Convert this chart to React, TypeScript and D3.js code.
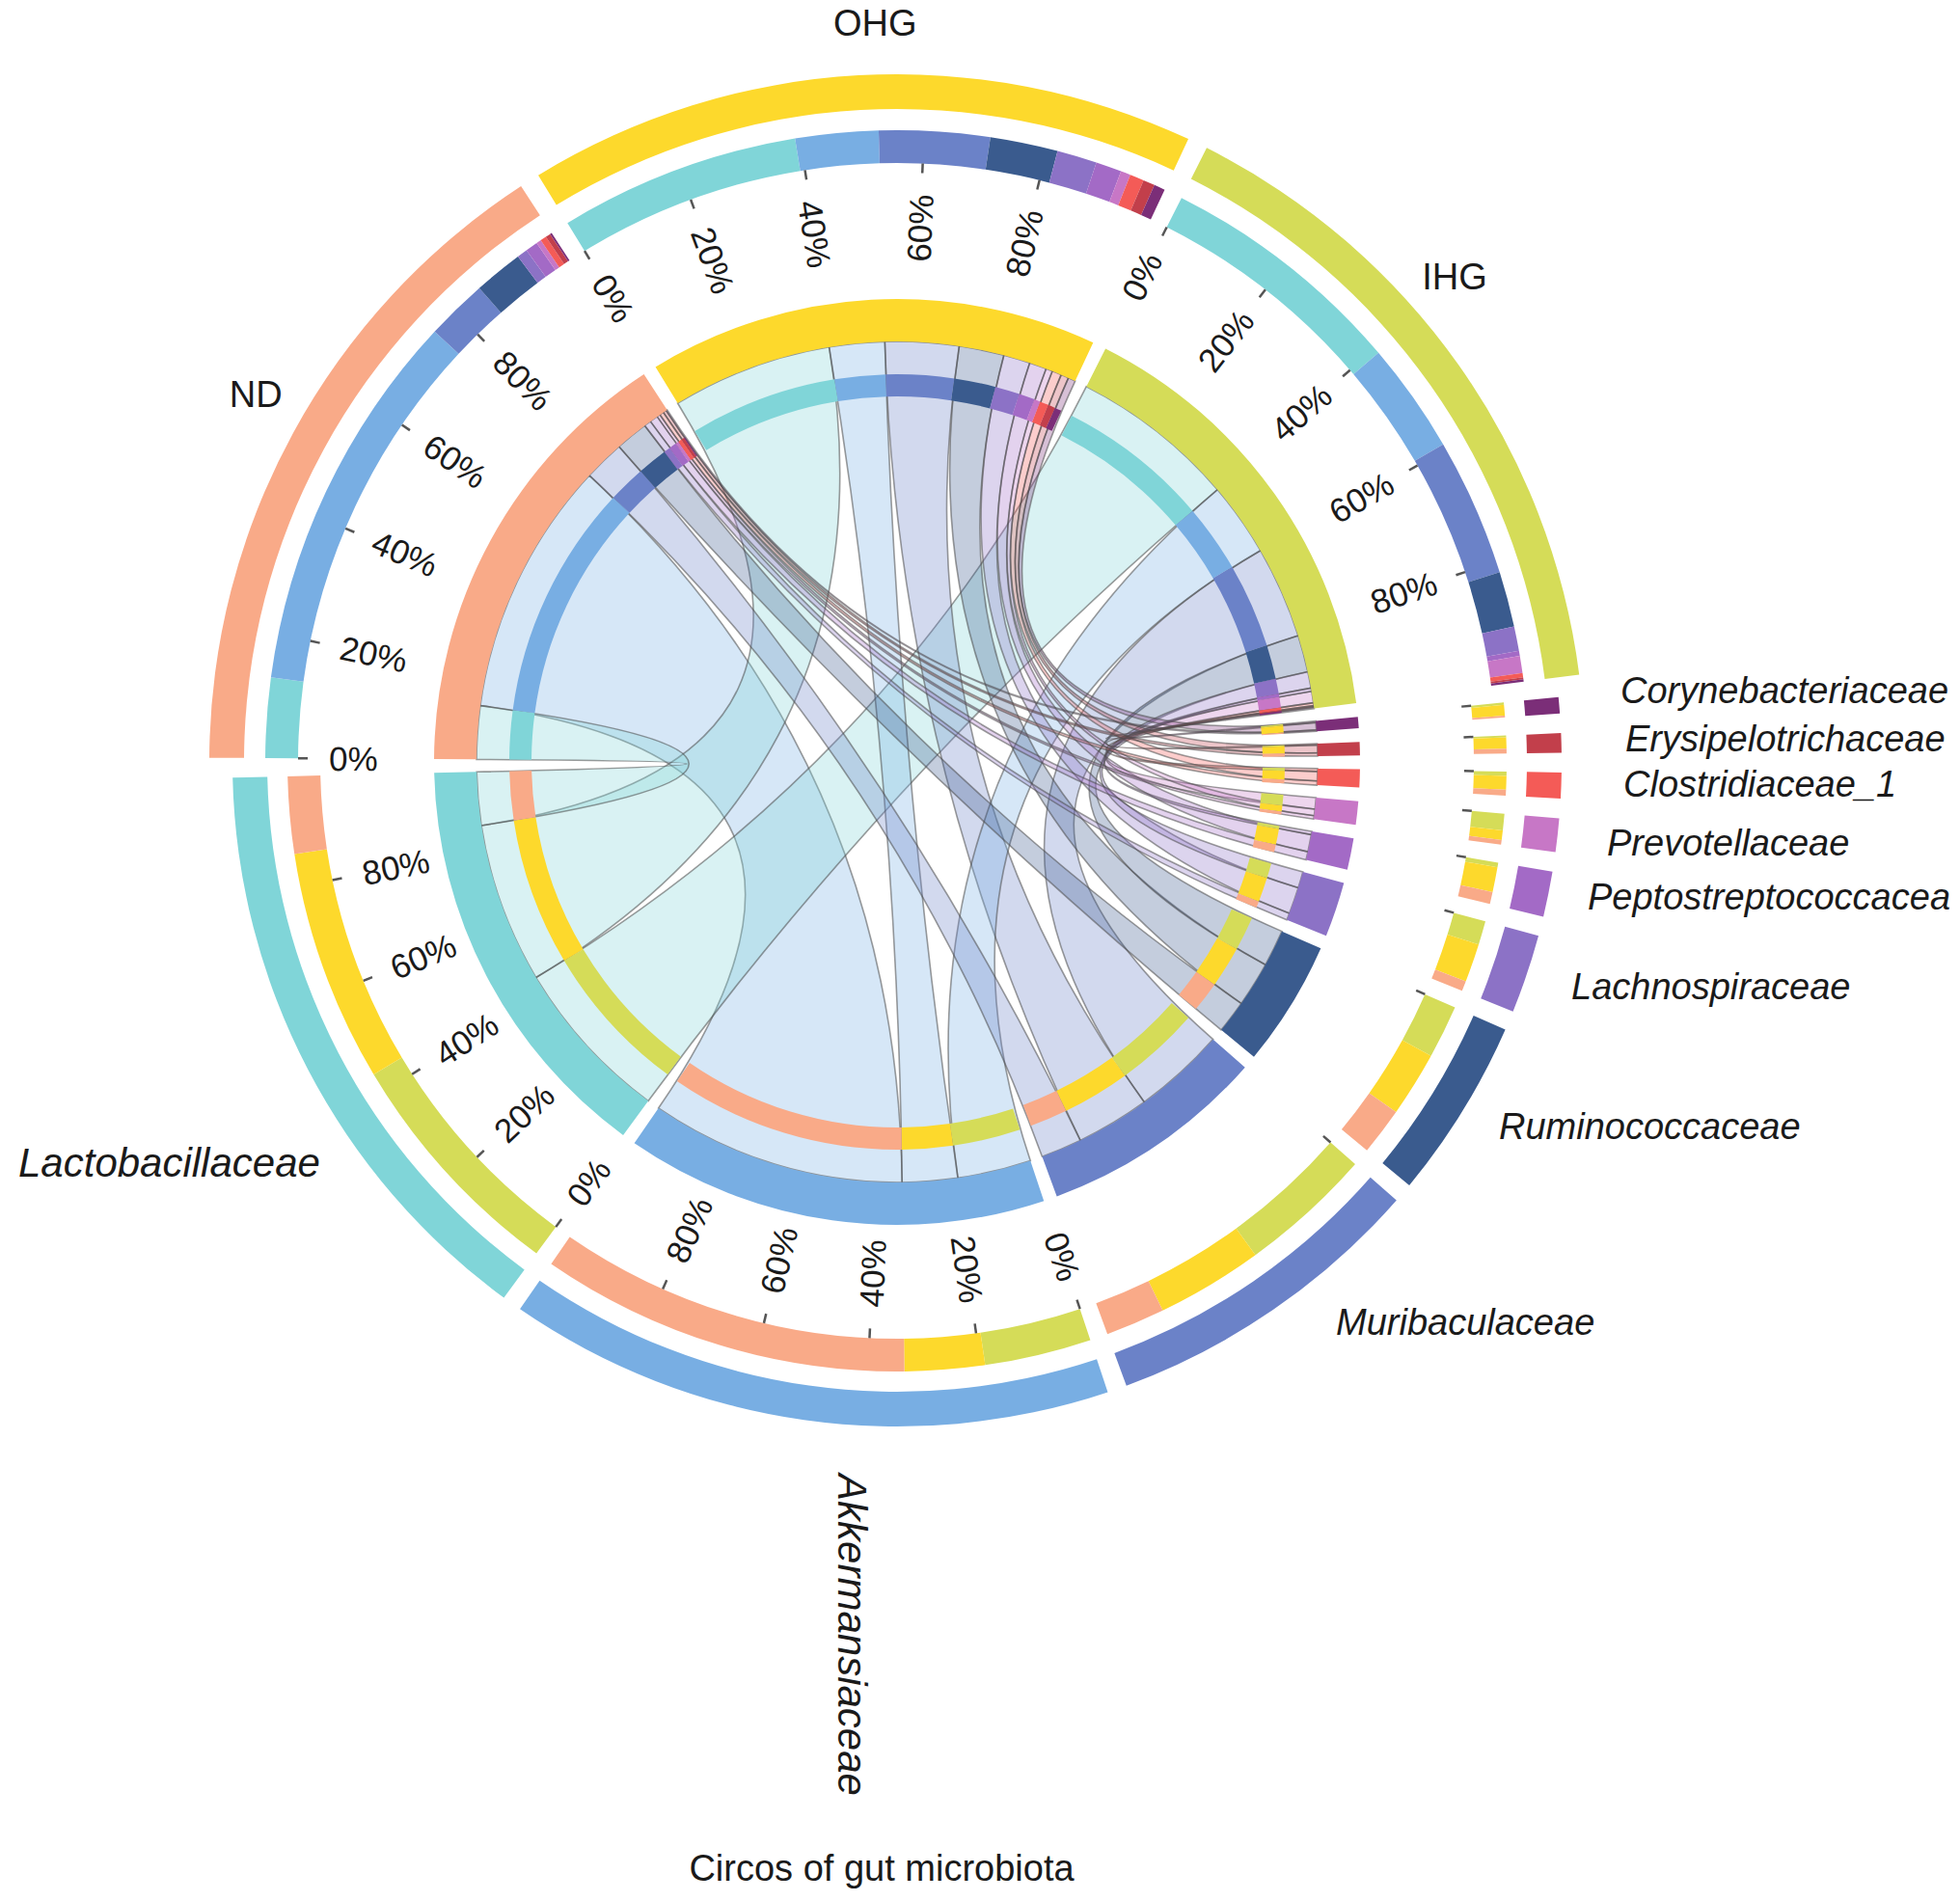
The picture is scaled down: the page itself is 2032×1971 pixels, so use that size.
import * as d3 from "d3"

// groups (rows) and gut-microbiota families (columns)
const groups = ["ND", "OHG", "IHG"]
const groupColors = ["#f9aa88", "#fdd92c", "#d5dc58"]

const families = [
  "Lactobacillaceae",
  "Akkermansiaceae",
  "Muribaculaceae",
  "Ruminococcaceae",
  "Lachnospiraceae",
  "Peptostreptococcacea",
  "Prevotellaceae",
  "Clostridiaceae_1",
  "Erysipelotrichaceae",
  "Corynebacteriaceae",
]
const familyColors = ["#80d5d8", "#78aee3", "#6b82c8", "#3a5b8e", "#8c72c6", "#a36ac6", "#c777c6", "#f45b57", "#c23f4b", "#7b2e78"]

// relative abundance (%) of each family, same order as `families`
const ndValues = [13, 62.4, 10, 8, 1.7, 2.0, 0.8, 1.0, 0.8, 0.3]
const ohgValues = [39.2, 13.5, 18, 11, 6.5, 4.2, 1.6, 2.3, 1.9, 1.8]
const ihgValues = [40.5, 18, 22.5, 9, 4, 0.8, 2.8, 0.7, 0.3, 0.4]

const tickLabels = ["0%", "20%", "40%", "60%", "80%"]
const title = "Circos of gut microbiota"

// layout
const W = 2032
const H = 1971
const CX = 930
const CY = 790
const PAD = 1.7 // degrees between segments
const GAP_AT = 269.5 // gap between Lactobacillaceae and ND, degrees clockwise from 12 o'clock

const R = {
  group: { outer: [677, 713], mid: [621, 655] },
  family: { outer: [653, 689], mid: [598, 632] },
  thick: [436, 480],
  thin: [379, 402],
  ribbon: 436,
}

const groupLabelAngle = [299.8, 358.3, 49] // degrees
const groupLabelRadius = 766
// x, y (left edge / vertical centre) of the family names; Akkermansiaceae is rotated
const familyLabelPos = [
  [19, 1205, 0, 42],
  [883, 1695, 90, 42],
  [1385, 1371, 0, 38],
  [1554, 1168, 0, 38],
  [1629, 1023, 0, 38],
  [1646, 930, 0, 38],
  [1666, 874, 0, 38],
  [1683, 813, 0, 38],
  [1685, 766, 0, 38],
  [1680, 716, 0, 38],
]

const FONT = "'Liberation Sans', Arial, Helvetica, sans-serif"

export default function App() {
  const values = [ndValues, ohgValues, ihgValues]
  const groupTotals = values.map(v => d3.sum(v))
  const familyTotals = families.map((_, j) => d3.sum(values, v => v[j]))

  const segs: any[] = [
    ...groups.map((name, i) => ({ kind: "group", index: i, name, color: groupColors[i], total: groupTotals[i] })),
    ...families.map((name, j) => ({ kind: "family", index: j, name, color: familyColors[j], total: familyTotals[j] })).reverse(),
  ]

  const rad = Math.PI / 180
  const span = d3.scaleLinear()
    .domain([0, d3.sum(segs, s => s.total)])
    .range([0, (360 - segs.length * PAD) * rad])

  let cursor = GAP_AT * rad
  segs.forEach(s => {
    s.a0 = cursor + (PAD * rad) / 2
    s.a1 = s.a0 + span(s.total)
    cursor = s.a1 + (PAD * rad) / 2
    const items = s.kind === "group"
      ? families.map((_, j) => ({ key: j, value: values[s.index][j], color: familyColors[j] }))
      : [2, 1, 0].map(i => ({ key: i, value: values[i][s.index], color: groupColors[i] }))
    let a = s.a0
    s.parts = items.map(it => {
      const p = { ...it, a0: a, a1: a + span(it.value) }
      a = p.a1
      return p
    })
  })

  // ribbons group -> family
  const ribbons: any[] = []
  segs.filter(s => s.kind === "group").forEach(g => {
    g.parts.forEach(p => {
      const f = segs.find(s => s.kind === "family" && s.index === p.key)
      const q = f.parts.find(x => x.key === g.index)
      ribbons.push({
        value: p.value,
        color: familyColors[p.key],
        source: { startAngle: p.a0, endAngle: p.a1 },
        target: { startAngle: q.a0, endAngle: q.a1 },
      })
    })
  })
  ribbons.sort((a, b) => b.value - a.value)

  const ribbon = d3.ribbon().radius(R.ribbon)
  const arc = d3.arc()
  const band = (r, a0, a1) => arc({ innerRadius: r[0], outerRadius: r[1], startAngle: a0, endAngle: a1 })

  const ticks: any[] = []
  segs.forEach(s => {
    const rIn = s.kind === "group" ? R.group.mid[0] : R.family.mid[0]
    const fracs = s.total > 60 ? [0, 0.2, 0.4, 0.6, 0.8] : [0]
    fracs.forEach((f, k) => {
      const a = s.a0 + f * (s.a1 - s.a0)
      const deg = (((a / rad) % 360) + 360) % 360
      const flip = deg > 0 && deg < 180
      const rl = rIn - 32
      ticks.push({
        key: s.name + k,
        x1: rIn * Math.sin(a), y1: -rIn * Math.cos(a),
        x2: (rIn - 10) * Math.sin(a), y2: -(rIn - 10) * Math.cos(a),
        label: s.total > 60 ? tickLabels[k] : null,
        lx: rl * Math.sin(a), ly: -rl * Math.cos(a),
        rot: flip ? deg - 90 : deg + 90,
        anchor: flip ? "end" : "start",
      })
    })
  })

  return (
    <svg width={W} height={H} style={{ position: "absolute", left: 0, top: 0, display: "block" }} fontFamily={FONT}>
      <rect width={W} height={H} fill="#fff" />
      <g transform={`translate(${CX},${CY})`}>
        {/* ribbons */}
        <g>
          {ribbons.map((r, i) => (
            <path key={i} d={ribbon(r)} fill={r.color} fillOpacity={0.3}
              stroke="#4a4a4a" strokeOpacity={0.55} strokeWidth={1.6} />
          ))}
        </g>
        {/* thin composition ring */}
        {segs.map(s => s.parts.map(p => (
          <path key={s.name + "t" + p.key} d={band(R.thin, p.a0, p.a1)} fill={p.color} />
        )))}
        {/* thick inner ring */}
        {segs.map(s => <path key={s.name + "k"} d={band(R.thick, s.a0, s.a1)} fill={s.color} />)}
        {/* middle composition ring */}
        {segs.map(s => s.parts.map(p => (
          <path key={s.name + "m" + p.key}
            d={band(s.kind === "group" ? R.group.mid : R.family.mid, p.a0, p.a1)} fill={p.color} />
        )))}
        {/* outer ring */}
        {segs.map(s => (
          <path key={s.name + "o"} d={band(s.kind === "group" ? R.group.outer : R.family.outer, s.a0, s.a1)} fill={s.color} />
        ))}
        {/* ticks */}
        {ticks.map(t => (
          <g key={t.key}>
            <line x1={t.x1} y1={t.y1} x2={t.x2} y2={t.y2} stroke="#555" strokeWidth={2.5} />
            {t.label && (
              <text transform={`translate(${t.lx},${t.ly}) rotate(${t.rot})`} textAnchor={t.anchor}
                dominantBaseline="central" fontSize={35} fill="#1a1a1a">{t.label}</text>
            )}
          </g>
        ))}
        {/* group names */}
        {groups.map((g, i) => {
          const a = groupLabelAngle[i] * rad
          return (
            <text key={g} x={groupLabelRadius * Math.sin(a)} y={-groupLabelRadius * Math.cos(a)}
              textAnchor="middle" dominantBaseline="central" fontSize={38} fill="#1a1a1a">{g}</text>
          )
        })}
      </g>
      {/* family names */}
      {families.map((f, j) => {
        const [x, y, rot, size] = familyLabelPos[j]
        return rot ? (
          <text key={f} transform={`translate(${x},${y}) rotate(${rot})`} textAnchor="middle"
            dominantBaseline="central" fontSize={size} fontStyle="italic" fill="#1a1a1a">{f}</text>
        ) : (
          <text key={f} x={x} y={y} dominantBaseline="central" fontSize={size} fontStyle="italic" fill="#1a1a1a">{f}</text>
        )
      })}
      <text x={914} y={1937} textAnchor="middle" dominantBaseline="central" fontSize={38} fill="#1a1a1a">{title}</text>
    </svg>
  )
}
